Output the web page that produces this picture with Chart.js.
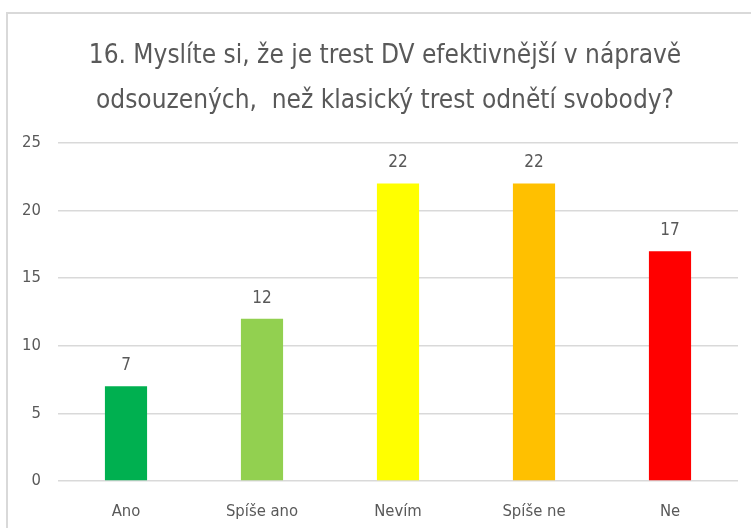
<!DOCTYPE html>
<html>
<head>
<meta charset="utf-8">
<script src="https://cdn.jsdelivr.net/npm/chart.js@4"></script>
<style>
    html, body { margin: 0; padding: 0; background: #fff; overflow: hidden; }
    #wrap { position: relative; width: 751px; height: 528px; }
    #frame {
        position: absolute; left: 6px; top: 12px; width: 800px; height: 600px;
        border-left: 2px solid #d9d9d9; border-top: 2px solid #d9d9d9;
        box-sizing: border-box;
    }
    canvas { position: absolute; left: 0; top: 0; }
</style>
</head>
<body>
<div id="wrap">
    <div id="frame"></div>
    <canvas id="surveyChart" width="751" height="528"></canvas>
</div>
<script>
'use strict';

const titleLines = [
    '16. Myslíte si, že je trest DV efektivnější v nápravě',
    'odsouzených,  než klasický trest odnětí svobody?',
];
const answers = ['Ano', 'Spíše ano', 'Nevím', 'Spíše ne', 'Ne'];
const counts = [7, 12, 22, 22, 17];
const barColors = ['#00B050', '#92D050', '#FFFF00', '#FFC000', '#FF0000'];
const yTicks = [0, 5, 10, 15, 20, 25];

const textColor = '#595959';
const fontFamily = "'Liberation Sans Narrow', 'DejaVu Sans Condensed', sans-serif";

// title is centred on the chart frame, not on the canvas
const frameTitle = {
    id: 'frameTitle',
    afterDraw(chart) {
        const { ctx } = chart;
        ctx.save();
        ctx.fillStyle = textColor;
        ctx.font = `26px ${fontFamily}`;
        ctx.textAlign = 'center';
        ctx.textBaseline = 'alphabetic';
        titleLines.forEach((line, i) => {
            ctx.fillText(line, 385, 63 + i * 45);
        });
        ctx.restore();
    },
};

// value labels above each bar
const barValueLabels = {
    id: 'barValueLabels',
    afterDatasetsDraw(chart) {
        const { ctx } = chart;
        const meta = chart.getDatasetMeta(0);
        ctx.save();
        ctx.fillStyle = textColor;
        ctx.font = `17px ${fontFamily}`;
        ctx.textAlign = 'center';
        ctx.textBaseline = 'bottom';
        meta.data.forEach((bar, i) => {
            ctx.fillText(String(counts[i]), bar.x, bar.y - 12);
        });
        ctx.restore();
    },
};

const surveyCtx = document.getElementById('surveyChart').getContext('2d');
const surveyChart = new Chart(surveyCtx, {
    type: 'bar',
    data: {
        labels: answers,
        datasets: [
            {
                data: counts,
                backgroundColor: barColors,
                borderWidth: 0,
                barPercentage: 0.62,
                categoryPercentage: 0.5,
            },
        ],
    },
    plugins: [frameTitle, barValueLabels],
    options: {
        responsive: false,
        animation: false,
        layout: {
            padding: { left: 0, right: 13, top: 143, bottom: 0 },
        },
        plugins: {
            legend: { display: false },
            tooltip: { enabled: false },
            title: { display: false },
        },
        scales: {
            x: {
                grid: { display: false },
                border: { display: false },
                ticks: {
                    color: textColor,
                    font: { family: fontFamily, size: 16.5 },
                    padding: 13,
                },
                afterFit(scale) {
                    scale.height = 47;
                },
            },
            y: {
                min: 0,
                max: 25,
                afterBuildTicks(scale) {
                    scale.ticks = yTicks.map((v) => ({ value: v }));
                },
                grid: { color: '#d9d9d9', lineWidth: 1.5, drawTicks: false },
                border: { display: false },
                ticks: {
                    color: textColor,
                    font: { family: fontFamily, size: 16.5 },
                    padding: 17,
                },
                afterFit(scale) {
                    scale.width = 58;
                },
            },
        },
    },
});
</script>
</body>
</html>
